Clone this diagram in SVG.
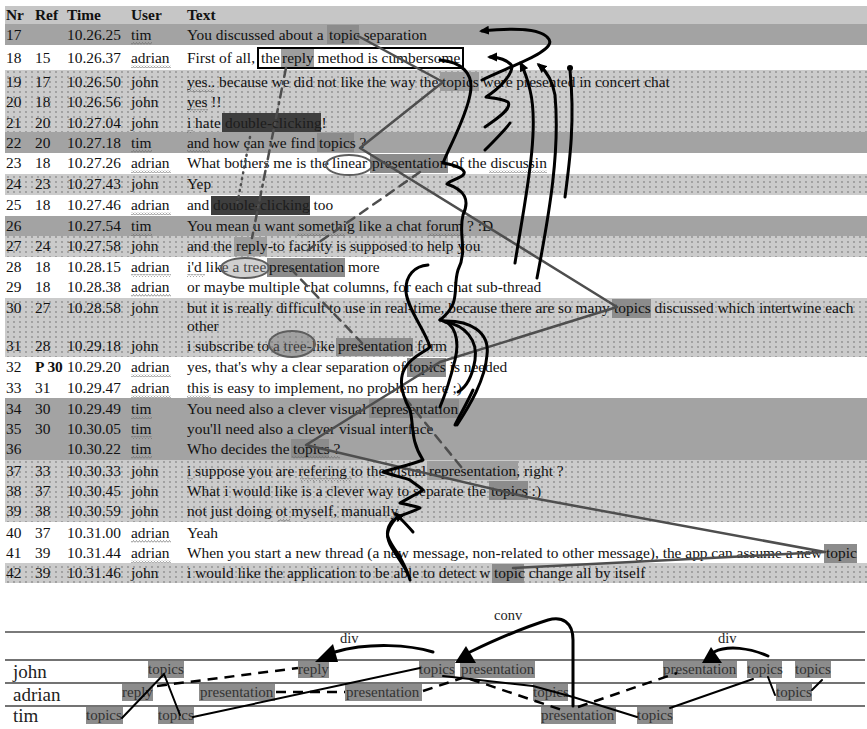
<svg xmlns="http://www.w3.org/2000/svg" width="867" height="729" viewBox="0 0 867 729">
<defs>
<pattern id="dots" width="6" height="5" patternUnits="userSpaceOnUse"><rect width="6" height="5" fill="#cbcbcb"/><circle cx="2" cy="2" r="0.65" fill="#555"/></pattern>
<pattern id="wv" width="3" height="3" patternUnits="userSpaceOnUse"><path d="M0,2.5 L1.5,0.5 L3,2.5" fill="none" stroke="#6a6a6a" stroke-width="0.7"/></pattern>
<marker id="ah" viewBox="0 0 10 10" refX="7" refY="5" markerWidth="10" markerHeight="10" markerUnits="userSpaceOnUse" orient="auto"><path d="M0,0.5 L10,5 L0,9.5 z" fill="#000"/></marker>
</defs>
<style>
.t{font-family:"Liberation Serif","Times New Roman",serif;font-size:15.4px;fill:#111}
.h{font-weight:bold}
.dk{fill:#a3a3a3}
.hd{fill:#c6c6c6}
.dt{fill:url(#dots)}
.hl{fill:#8c8c8c}
.hw{fill:#9e9e9e}
.hx{fill:#3e3e3e}
.wv{fill:url(#wv)}
.gl{fill:none;stroke:#4e4e4e;stroke-width:2.5;stroke-linecap:round;stroke-linejoin:round}
.bk{fill:none;stroke:#000;stroke-width:3;stroke-linecap:round;stroke-linejoin:round}
.el{fill:none;stroke:#5e5e5e;stroke-width:2}
.lane{stroke:#444;stroke-width:1.5}
.bx{fill:#8c8c8c}
.bt{font-family:"Liberation Serif","Times New Roman",serif;font-size:15px;fill:#333}
.ln{font-family:"Liberation Serif","Times New Roman",serif;font-size:19px;fill:#222}
.lb{font-family:"Liberation Serif","Times New Roman",serif;font-size:14.5px;fill:#222}
.bl{fill:none;stroke:#000;stroke-width:2;stroke-linecap:round}
.bd{fill:none;stroke:#000;stroke-width:2.5;stroke-dasharray:10 7}
</style>
<rect width="867" height="729" fill="#fff"/>
<g id="bands">
<rect class="hd" x="5" y="6" width="862" height="18"/>
<rect class="dk" x="5" y="24" width="862" height="21"/>
<rect class="dt" x="5" y="70" width="862" height="62"/>
<rect class="dk" x="5" y="132" width="862" height="21"/>
<rect class="dt" x="5" y="174" width="862" height="21"/>
<rect class="dk" x="5" y="216" width="862" height="20"/>
<rect class="dt" x="5" y="236" width="862" height="21"/>
<rect class="dt" x="5" y="298" width="862" height="59"/>
<rect class="dk" x="5" y="398" width="862" height="62"/>
<rect class="dt" x="5" y="460" width="862" height="62"/>
<rect class="dt" x="5" y="563" width="862" height="20"/>
</g>
<g id="highlights">
<rect class="hl" x="327" y="25" width="32" height="19"/>
<rect class="hw" x="281" y="48" width="33" height="19"/>
<rect class="hw" x="440" y="72" width="39" height="19"/>
<rect class="hx" x="222" y="113" width="99" height="19"/>
<rect class="hl" x="317" y="133" width="37" height="19"/>
<rect class="hl" x="370" y="154" width="78" height="19"/>
<rect class="hx" x="211" y="196" width="99" height="19"/>
<rect class="hw" x="234" y="237" width="33" height="19"/>
<rect class="hl" x="267" y="258" width="78" height="19"/>
<rect class="hl" x="612" y="299" width="39" height="19"/>
<rect class="hl" x="336" y="338" width="77" height="18"/>
<rect class="hl" x="407" y="358" width="39" height="19"/>
<rect class="hl" x="369" y="399" width="90" height="19"/>
<rect class="hl" x="291" y="439" width="38" height="19"/>
<rect class="hw" x="427" y="461" width="91" height="19"/>
<rect class="hl" x="489" y="481" width="39" height="19"/>
<rect class="hl" x="824" y="544" width="33" height="19"/>
<rect class="hl" x="492" y="564" width="32" height="19"/>
</g>
<g id="squiggles">
<rect class="wv" x="131" y="42" width="21" height="3"/>
<rect class="wv" x="131" y="150" width="21" height="3"/>
<rect class="wv" x="131" y="233" width="21" height="3"/>
<rect class="wv" x="131" y="416" width="21" height="3"/>
<rect class="wv" x="131" y="436" width="21" height="3"/>
<rect class="wv" x="131" y="456" width="21" height="3"/>
<rect class="wv" x="131" y="65" width="40" height="3"/>
<rect class="wv" x="131" y="170" width="40" height="3"/>
<rect class="wv" x="131" y="212" width="40" height="3"/>
<rect class="wv" x="131" y="274" width="40" height="3"/>
<rect class="wv" x="131" y="294" width="40" height="3"/>
<rect class="wv" x="131" y="374" width="40" height="3"/>
<rect class="wv" x="131" y="395" width="40" height="3"/>
<rect class="wv" x="131" y="540" width="40" height="3"/>
<rect class="wv" x="131" y="560" width="40" height="3"/>
<rect class="wv" x="187" y="89" width="27" height="3"/>
<rect class="wv" x="187" y="109" width="21" height="3"/>
<rect class="wv" x="187" y="130" width="6" height="3"/>
<rect class="wv" x="187" y="150" width="23" height="3"/>
<rect class="wv" x="489" y="170" width="58" height="3"/>
<rect class="wv" x="297" y="233" width="48" height="3"/>
<rect class="wv" x="428" y="233" width="38" height="3"/>
<rect class="wv" x="187" y="274" width="18" height="3"/>
<rect class="wv" x="187" y="395" width="24" height="3"/>
<rect class="wv" x="292" y="456" width="48" height="3"/>
<rect class="wv" x="187" y="478" width="6" height="3"/>
<rect class="wv" x="300" y="478" width="52" height="3"/>
<rect class="wv" x="278" y="519" width="12" height="3"/>
</g>
<g id="header">
<text class="t h" x="6" y="20">Nr</text><text class="t h" x="35" y="20">Ref</text><text class="t h" x="67" y="20">Time</text><text class="t h" x="131" y="20">User</text><text class="t h" x="187" y="20">Text</text>
</g>
<g id="r17"><text class="t" x="6" y="40">17</text><text class="t" x="67" y="40">10.26.25</text><text class="t" x="131" y="40">tim</text><text class="t" x="187" y="40">You discussed about a <tspan x="329">topic</tspan> separation</text></g>
<g id="r18"><text class="t" x="6" y="63">18</text><text class="t" x="35" y="63">15</text><text class="t" x="67" y="63">10.26.37</text><text class="t" x="131" y="63">adrian</text><text class="t" x="187" y="63">First of all, <tspan x="261">the </tspan><tspan x="282">reply</tspan> method is cumbersome</text><rect x="258" y="48" width="205" height="20" fill="none" stroke="#000" stroke-width="2"/></g>
<g id="r19"><text class="t" x="6" y="87">19</text><text class="t" x="35" y="87">17</text><text class="t" x="67" y="87">10.26.50</text><text class="t" x="131" y="87">john</text><text class="t" x="187" y="87">yes.. because we did not like the way the <tspan x="442">topics</tspan> were presented in concert chat</text></g>
<g id="r20"><text class="t" x="6" y="107">20</text><text class="t" x="35" y="107">18</text><text class="t" x="67" y="107">10.26.56</text><text class="t" x="131" y="107">john</text><text class="t" x="187" y="107">yes !!</text></g>
<g id="r21"><text class="t" x="6" y="128">21</text><text class="t" x="35" y="128">20</text><text class="t" x="67" y="128">10.27.04</text><text class="t" x="131" y="128">john</text><text class="t" x="187" y="128">i hate <tspan x="225" fill="#1c1c1c">double-clicking</tspan>!</text></g>
<g id="r22"><text class="t" x="6" y="148">22</text><text class="t" x="35" y="148">20</text><text class="t" x="67" y="148">10.27.18</text><text class="t" x="131" y="148">tim</text><text class="t" x="187" y="148">and how can we find <tspan x="319">topics</tspan> ?</text></g>
<g id="r23"><text class="t" x="6" y="168">23</text><text class="t" x="35" y="168">18</text><text class="t" x="67" y="168">10.27.26</text><text class="t" x="131" y="168">adrian</text><text class="t" x="187" y="168">What bothers me is the <tspan x="332">linear</tspan> <tspan x="372">presentation</tspan> of the discussin</text></g>
<g id="r24"><text class="t" x="6" y="189">24</text><text class="t" x="35" y="189">23</text><text class="t" x="67" y="189">10.27.43</text><text class="t" x="131" y="189">john</text><text class="t" x="187" y="189">Yep</text></g>
<g id="r25"><text class="t" x="6" y="210">25</text><text class="t" x="35" y="210">18</text><text class="t" x="67" y="210">10.27.46</text><text class="t" x="131" y="210">adrian</text><text class="t" x="187" y="210">and <tspan x="213" fill="#1c1c1c">double-clicking</tspan> too</text></g>
<g id="r26"><text class="t" x="6" y="231">26</text><text class="t" x="67" y="231">10.27.54</text><text class="t" x="131" y="231">tim</text><text class="t" x="187" y="231">You mean u want somethig like a chat forum ? :D</text></g>
<g id="r27"><text class="t" x="6" y="251">27</text><text class="t" x="35" y="251">24</text><text class="t" x="67" y="251">10.27.58</text><text class="t" x="131" y="251">john</text><text class="t" x="187" y="251">and the <tspan x="236">reply</tspan>-to facility is supposed to help you</text></g>
<g id="r28"><text class="t" x="6" y="272">28</text><text class="t" x="35" y="272">18</text><text class="t" x="67" y="272">10.28.15</text><text class="t" x="131" y="272">adrian</text><text class="t" x="187" y="272">i'd like a tree <tspan x="269">presentation</tspan> more</text></g>
<g id="r29"><text class="t" x="6" y="292">29</text><text class="t" x="35" y="292">18</text><text class="t" x="67" y="292">10.28.38</text><text class="t" x="131" y="292">adrian</text><text class="t" x="187" y="292">or maybe multiple chat columns, for each chat sub-thread</text></g>
<g id="r30"><text class="t" x="6" y="313">30</text><text class="t" x="35" y="313">27</text><text class="t" x="67" y="313">10.28.58</text><text class="t" x="131" y="313">john</text><text class="t" x="187" y="313">but it is really difficult to use in real-time, because there are so many <tspan x="614">topics</tspan> discussed which intertwine each</text><text class="t" x="187" y="331">other</text></g>
<g id="r31"><text class="t" x="6" y="351">31</text><text class="t" x="35" y="351">28</text><text class="t" x="67" y="351">10.29.18</text><text class="t" x="131" y="351">john</text><text class="t" x="187" y="351">i subscribe to a tree-like <tspan x="338">presentation</tspan> form</text></g>
<g id="r32"><text class="t" x="6" y="372">32</text><text class="t h" x="35" y="372">P 30</text><text class="t" x="67" y="372">10.29.20</text><text class="t" x="131" y="372">adrian</text><text class="t" x="187" y="372">yes, that's why a clear separation of <tspan x="409">topics</tspan> is needed</text></g>
<g id="r33"><text class="t" x="6" y="393">33</text><text class="t" x="35" y="393">31</text><text class="t" x="67" y="393">10.29.47</text><text class="t" x="131" y="393">adrian</text><text class="t" x="187" y="393">this is easy to implement, no problem here ;)</text></g>
<g id="r34"><text class="t" x="6" y="414">34</text><text class="t" x="35" y="414">30</text><text class="t" x="67" y="414">10.29.49</text><text class="t" x="131" y="414">tim</text><text class="t" x="187" y="414">You need also a clever visual <tspan x="371">representation</tspan></text></g>
<g id="r35"><text class="t" x="6" y="434">35</text><text class="t" x="35" y="434">30</text><text class="t" x="67" y="434">10.30.05</text><text class="t" x="131" y="434">tim</text><text class="t" x="187" y="434">you'll need also a clever visual interface</text></g>
<g id="r36"><text class="t" x="6" y="454">36</text><text class="t" x="67" y="454">10.30.22</text><text class="t" x="131" y="454">tim</text><text class="t" x="187" y="454">Who decides the <tspan x="293">topics</tspan> ?</text></g>
<g id="r37"><text class="t" x="6" y="476">37</text><text class="t" x="35" y="476">33</text><text class="t" x="67" y="476">10.30.33</text><text class="t" x="131" y="476">john</text><text class="t" x="187" y="476">i suppose you are refering to the visual <tspan x="429">representation</tspan>, right ?</text></g>
<g id="r38"><text class="t" x="6" y="496">38</text><text class="t" x="35" y="496">37</text><text class="t" x="67" y="496">10.30.45</text><text class="t" x="131" y="496">john</text><text class="t" x="187" y="496">What i would like is a clever way to separate the <tspan x="491">topics</tspan> :)</text></g>
<g id="r39"><text class="t" x="6" y="516">39</text><text class="t" x="35" y="516">38</text><text class="t" x="67" y="516">10.30.59</text><text class="t" x="131" y="516">john</text><text class="t" x="187" y="516">not just doing ot myself, manually</text></g>
<g id="r40"><text class="t" x="6" y="538">40</text><text class="t" x="35" y="538">37</text><text class="t" x="67" y="538">10.31.00</text><text class="t" x="131" y="538">adrian</text><text class="t" x="187" y="538">Yeah</text></g>
<g id="r41"><text class="t" x="6" y="558">41</text><text class="t" x="35" y="558">39</text><text class="t" x="67" y="558">10.31.44</text><text class="t" x="131" y="558">adrian</text><text class="t" x="187" y="558">When you start a new thread (a new message, non-related to other message), the app can assume a new <tspan x="826">topic</tspan></text></g>
<g id="r42"><text class="t" x="6" y="578">42</text><text class="t" x="35" y="578">39</text><text class="t" x="67" y="578">10.31.46</text><text class="t" x="131" y="578">john</text><text class="t" x="187" y="578">i would like the application to be able to detect w <tspan x="494">topic</tspan> change all by itself</text></g>
<g id="marks">
<ellipse class="el" cx="349" cy="165" rx="23" ry="10"/>
<ellipse cx="245" cy="268" rx="24" ry="10" fill="#8a8a8a" fill-opacity="0.4" stroke="#5e5e5e" stroke-width="2"/>
<ellipse cx="292" cy="344" rx="23" ry="13" fill="#6e6e6e" fill-opacity="0.45" stroke="#5e5e5e" stroke-width="2"/>
</g>
<g id="connectors">
<polyline class="gl" points="358,36 443,82 360,148 617,307 440,362 306,445 527,497 825,552 513,568"/>
<path class="gl" stroke-dasharray="9 7" d="M420,172 L305,252"/>
<path class="gl" stroke-dasharray="9 7" d="M290,268 L362,343"/>
<path class="gl" stroke-dasharray="9 7" d="M405,398 L462,468"/>
<path class="gl" stroke-dasharray="9 5 2 5" d="M286,68 L252,238"/>
<path class="gl" stroke-dasharray="1 5" d="M250,137 L237,205"/>
<path class="bk" marker-end="url(#ah)" d="M482,80 C510,66 560,50 548,38 C540,28 510,28 482,31"/>
<path class="bk" marker-end="url(#ah)" d="M485,127 C500,117 512,108 508,102 C500,98 490,98 486,97 C500,88 512,75 512,66 C508,60 498,57 490,57"/>
<path class="bk" d="M485,150 C495,140 505,130 510,123"/>
<path class="bk" marker-end="url(#ah)" d="M515,263 C525,200 540,130 530,90 C527,77 524,70 521,64"/>
<path class="bk" marker-end="url(#ah)" d="M537,278 C550,210 560,150 555,95 C552,78 545,70 539,65"/>
<path class="bk" d="M565,197 C570,160 575,120 570,70"/>
<circle cx="570" cy="68" r="3" fill="#000"/>
<path class="bk" d="M440,60 C460,62 475,72 470,95 C465,120 450,145 443,163 C455,165 470,170 462,176 C455,180 448,182 447,184 C465,190 470,200 463,215 C458,235 468,250 458,270 C452,290 462,302 440,320"/>
<path class="bk" d="M440,320 C455,322 460,340 455,360 C450,380 445,395 440,407"/>
<path class="bk" d="M443,321 C470,320 490,332 487,355 C485,380 470,405 457,425"/>
<path class="bk" d="M445,322 C465,325 478,340 475,360 C472,378 465,388 458,392"/>
<path class="bk" d="M428,265 C415,266 405,275 406,292 C408,310 425,330 430,347 C425,352 412,356 405,368 C398,380 402,395 410,410 C414,425 410,440 423,460 C410,465 395,468 383,472 C395,476 405,478 410,480 C415,484 420,487 423,490 C415,495 405,500 400,503 C408,505 415,506 420,508 C412,512 402,515 397,517 C390,525 386,532 388,537 C392,547 398,553 400,557 C404,565 408,572 410,580"/>
<path class="bk" marker-end="url(#ah)" d="M413,532 C408,526 402,520 396,514"/>
<path class="bk" d="M393,520 C386,528 386,538 392,548 C398,558 404,566 407,572"/>
<path class="bk" d="M473,390 C466,405 460,415 455,425"/>
</g>
<g id="timeline">
<line x1="5" y1="632" x2="865" y2="632" stroke="#7a7a7a" stroke-width="2"/>
<line class="lane" x1="5" y1="660" x2="865" y2="660"/>
<line class="lane" x1="5" y1="683" x2="865" y2="683"/>
<line class="lane" x1="5" y1="706" x2="865" y2="706"/>
<text class="ln" x="13" y="678">john</text>
<text class="ln" x="13" y="701">adrian</text>
<text class="ln" x="13" y="722">tim</text>
</g>
<g id="tl-nodes">
<g id="j1"><rect class="bx" x="148" y="661" width="36" height="17"/><text class="bt" x="148" y="674">topics</text></g>
<g id="j2"><rect class="bx" x="298" y="661" width="31" height="17"/><text class="bt" x="298" y="674">reply</text></g>
<g id="j3"><rect class="bx" x="419" y="661" width="36" height="17"/><text class="bt" x="419" y="674">topics</text></g>
<g id="j4"><rect class="bx" x="460" y="661" width="75" height="17"/><text class="bt" x="461" y="674">presentation</text></g>
<g id="j5"><rect class="bx" x="663" y="661" width="74" height="17"/><text class="bt" x="663" y="674">presentation</text></g>
<g id="j6"><rect class="bx" x="747" y="661" width="35" height="17"/><text class="bt" x="747" y="674">topics</text></g>
<g id="j7"><rect class="bx" x="795" y="661" width="36" height="17"/><text class="bt" x="795" y="674">topics</text></g>
<g id="a1"><rect class="bx" x="122" y="684" width="31" height="17"/><text class="bt" x="122" y="697">reply</text></g>
<g id="a2"><rect class="bx" x="199" y="684" width="76" height="17"/><text class="bt" x="200" y="697">presentation</text></g>
<g id="a3"><rect class="bx" x="345" y="684" width="77" height="17"/><text class="bt" x="346" y="697">presentation</text></g>
<g id="a4"><rect class="bx" x="533" y="684" width="35" height="17"/><text class="bt" x="533" y="697">topics</text></g>
<g id="a5"><rect class="bx" x="776" y="684" width="36" height="17"/><text class="bt" x="776" y="697">topics</text></g>
<g id="t1"><rect class="bx" x="86" y="707" width="37" height="17"/><text class="bt" x="86" y="720">topics</text></g>
<g id="t2"><rect class="bx" x="158" y="707" width="36" height="17"/><text class="bt" x="158" y="720">topics</text></g>
<g id="t3"><rect class="bx" x="541" y="707" width="75" height="17"/><text class="bt" x="541" y="720">presentation</text></g>
<g id="t4"><rect class="bx" x="637" y="707" width="36" height="17"/><text class="bt" x="637" y="720">topics</text></g>
</g>
<g id="tl-connectors">
<polyline class="bl" points="122,718 164,674 180,715"/>
<line class="bl" x1="193" y1="717" x2="420" y2="668"/>
<path class="bd" stroke-dasharray="10 6 2 6" d="M157,686 L298,668"/>
<path class="bd" d="M276,692 L345,692"/>
<path class="bd" d="M423,691 L462,678"/>
<polyline class="bl" points="443,676 533,686 573,697 637,717"/>
<path class="bd" d="M470,679 L565,711"/>
<path class="bd" d="M578,707 L677,673"/>
<line class="bl" x1="670" y1="708" x2="753" y2="679"/>
<line class="bl" x1="768" y1="677" x2="775" y2="695"/>
<line class="bl" x1="812" y1="690" x2="822" y2="680"/>
<path class="bk" stroke-width="3.5" d="M433,652 C410,645 370,642 335,652"/>
<polygon points="315,662 333,644 338,662" fill="#000"/>
<path class="bk" stroke-width="3" d="M573,706 L573,640 C573,622 562,616 548,620 C522,628 495,640 470,652"/>
<polygon points="455,663 466,646 476,663" fill="#000"/>
<path class="bk" stroke-width="3" d="M768,656 C750,648 728,645 714,652"/>
<polygon points="702,663 711,647 722,663" fill="#000"/>
<text class="lb" x="340" y="643">div</text>
<text class="lb" x="494" y="620">conv</text>
<text class="lb" x="718" y="643">div</text>
</g>
</svg>
